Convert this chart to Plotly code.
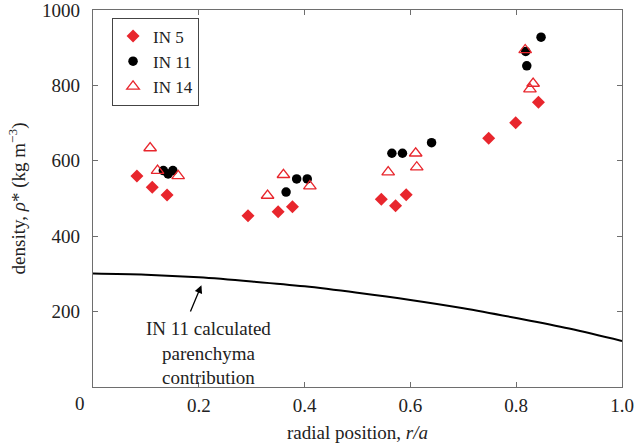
import plotly.graph_objects as go

# Data
in5_x = [0.083, 0.112, 0.140, 0.293, 0.350, 0.377, 0.545, 0.572, 0.592, 0.748, 0.799, 0.842]
in5_y = [560, 530, 509, 454, 465, 478, 498, 481, 510, 660, 701, 755]

in11_x = [0.133, 0.142, 0.151, 0.365, 0.385, 0.405, 0.565, 0.585, 0.640, 0.818, 0.820, 0.847]
in11_y = [574, 565, 574, 517, 552, 552, 620, 620, 648, 890, 852, 928]

in14_x = [0.108, 0.122, 0.161, 0.330, 0.360, 0.410, 0.558, 0.610, 0.612, 0.817, 0.826, 0.832]
in14_y = [634, 574, 560, 508, 563, 533, 570, 620, 583, 894, 790, 805]

line_x = [0.0, 0.1, 0.2, 0.3, 0.4, 0.5, 0.6, 0.7, 0.8, 0.9, 1.0]
line_y = [301, 298, 291, 280, 267, 250, 231, 209, 183, 155, 122]

x_ticks = [0.2, 0.4, 0.6, 0.8, 1.0]
x_ticklabels = ["0.2", "0.4", "0.6", "0.8", "1.0"]
y_ticks = [200, 400, 600, 800, 1000]
y_ticklabels = ["200", "400", "600", "800", "1000"]

FONT = "Liberation Serif, Times New Roman, DejaVu Serif, serif"
FS = 19
RED = "#e8262d"
AX = "#6e6e6e"
TXT = "#222"

fig = go.Figure()
fig.add_trace(go.Scatter(x=line_x, y=line_y, mode="lines", line=dict(color="black", width=2, shape="spline"),
                         showlegend=False))
fig.add_trace(go.Scatter(x=in5_x, y=in5_y, mode="markers", name="IN 5",
                         marker=dict(symbol="diamond", color=RED, size=10, line=dict(width=0))))
fig.add_trace(go.Scatter(x=in11_x, y=in11_y, mode="markers", name="IN 11",
                         marker=dict(symbol="circle", color="black", size=9.5, line=dict(width=0))))
fig.add_trace(go.Scatter(x=in14_x, y=in14_y, mode="markers", name="IN 14",
                         marker=dict(symbol="triangle-up-open", color=RED, size=11, line=dict(width=1.3, color=RED))))

axis_common = dict(showline=True, linecolor=AX, linewidth=1.3, mirror="ticks", ticks="inside",
                   ticklen=5, tickcolor=AX, tickwidth=1, showgrid=False, zeroline=False,
                   automargin=False, ticklabeloverflow="allow",
                   tickfont=dict(family=FONT, size=FS, color=TXT))

fig.update_xaxes(range=[0, 1.0], tickvals=x_ticks, ticktext=x_ticklabels,
                 ticklabelstandoff=1, **axis_common)
fig.update_yaxes(range=[0, 1000], tickvals=y_ticks, ticktext=y_ticklabels,
                 ticklabelstandoff=8, **axis_common)

# axis titles
fig.add_annotation(x=0.5, y=-0.121, xref="paper", yref="paper", text="radial position, <i>r/a</i>",
                   showarrow=False, xanchor="center", yanchor="middle",
                   font=dict(family=FONT, size=FS, color=TXT))
fig.add_annotation(x=-0.142, y=0.5, xref="paper", yref="paper",
                   text="density, <i>ρ</i>* (kg m<sup>−3</sup>)", textangle=-90,
                   showarrow=False, xanchor="center", yanchor="middle",
                   font=dict(family=FONT, size=FS, color=TXT))

fig.add_annotation(x=0, y=0, xref="x", yref="y", text="0", showarrow=False,
                   xshift=-13, yshift=-16, font=dict(family=FONT, size=FS, color=TXT))

fig.add_annotation(x=0.205, y=270, ax=0.183, ay=196, xref="x", yref="y", axref="x", ayref="y",
                   text="", showarrow=True, arrowhead=2, arrowsize=1.2, arrowwidth=1.3, arrowcolor="black")
fig.add_annotation(x=0.219, y=90, xref="x", yref="y",
                   text="IN 11 calculated<br>parenchyma<br>contribution", showarrow=False,
                   align="center", font=dict(family=FONT, size=FS, color=TXT))

fig.update_layout(
    width=634, height=443,
    margin=dict(l=93, r=12, t=10, b=56),
    plot_bgcolor="white", paper_bgcolor="white",
    font=dict(family=FONT, size=FS, color=TXT),
    legend=dict(x=0.036, y=0.98, xanchor="left", yanchor="top", bgcolor="white",
                bordercolor="#444", borderwidth=1, font=dict(family=FONT, size=17, color=TXT),
                itemwidth=30, tracegroupgap=0),
)

fig.write_html("out.html", config={"displayModeBar": False, "staticPlot": True},
               post_script="document.body.style.margin='0';")
